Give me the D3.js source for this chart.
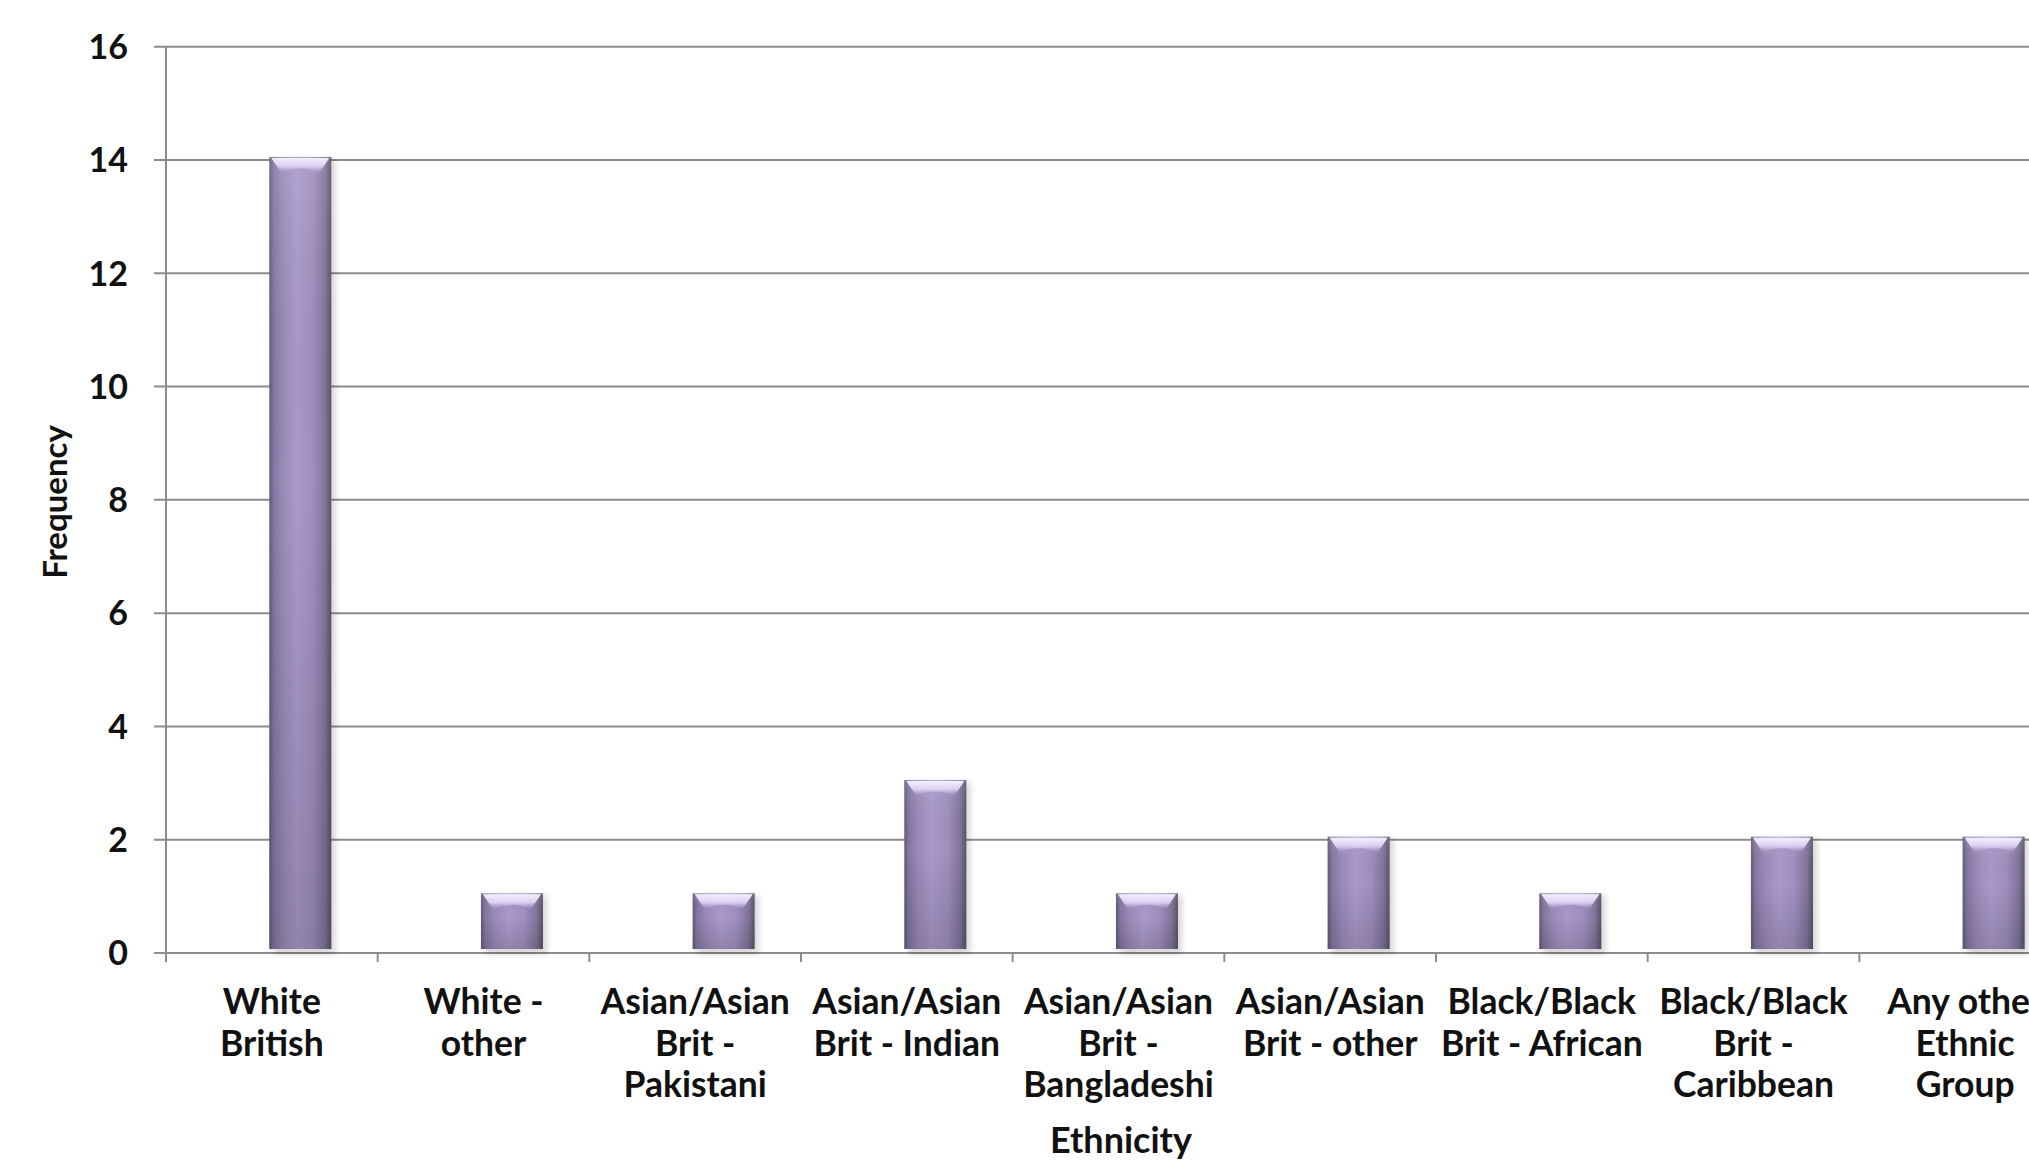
<!DOCTYPE html>
<html>
<head>
<meta charset="utf-8">
<script src="https://cdn.jsdelivr.net/npm/d3@7"></script>
<style>
  html, body { margin: 0; padding: 0; background: #ffffff; overflow: hidden; }
  svg { display: block; }
  text { font-family: Lato, "Open Sans", sans-serif; font-weight: bold; fill: #111111; }
</style>
</head>
<body>
<svg id="chart" width="2029" height="1161"></svg>
<script>
// ---- data ----
const categories = [
  "White British",
  "White - other",
  "Asian/Asian Brit - Pakistani",
  "Asian/Asian Brit - Indian",
  "Asian/Asian Brit - Bangladeshi",
  "Asian/Asian Brit - other",
  "Black/Black Brit - African",
  "Black/Black Brit - Caribbean",
  "Any other Ethnic Group"
];
const categoryLines = [
  ["White", "British"],
  ["White -", "other"],
  ["Asian/Asian", "Brit -", "Pakistani"],
  ["Asian/Asian", "Brit - Indian"],
  ["Asian/Asian", "Brit -", "Bangladeshi"],
  ["Asian/Asian", "Brit - other"],
  ["Black/Black", "Brit - African"],
  ["Black/Black", "Brit -", "Caribbean"],
  ["Any other", "Ethnic", "Group"]
];
const frequency = [14, 1, 1, 3, 1, 2, 1, 2, 2];
const yTicks = [0, 2, 4, 6, 8, 10, 12, 14, 16];
const xTitle = "Ethnicity";
const yTitle = "Frequency";

// ---- layout ----
const svg = d3.select("#chart");
const plot = { left: 166, right: 2071, top: 46.7, bottom: 953 };

const x = d3.scaleBand().domain(categories).range([plot.left, plot.right]).padding(0);
const y = d3.scaleLinear().domain([0, 16]).range([plot.bottom, plot.top]);

// gradients
const defs = svg.append("defs");
const hg = defs.append("linearGradient").attr("id", "barH").attr("x1", "0").attr("x2", "1").attr("y1", "0").attr("y2", "0");
[["0%", "#625a74"], ["7%", "#8477a0"], ["22%", "#9a8bba"], ["45%", "#a99acb"], ["70%", "#9f90c0"], ["90%", "#81759b"], ["100%", "#5a5268"]]
  .forEach(([o, c]) => hg.append("stop").attr("offset", o).attr("stop-color", c));
const vg = defs.append("linearGradient").attr("id", "barV").attr("x1", "0").attr("x2", "0").attr("y1", "0").attr("y2", "1");
[["0%", "#ffffff", 0.1], ["40%", "#000000", 0.0], ["100%", "#000000", 0.14]]
  .forEach(([o, c, a]) => vg.append("stop").attr("offset", o).attr("stop-color", c).attr("stop-opacity", a));
const tg = defs.append("linearGradient").attr("id", "barTop").attr("x1", "0").attr("x2", "0").attr("y1", "0").attr("y2", "1");
[["0%", "#f6f0ff", 1], ["55%", "#e2d6f6", 0.9], ["100%", "#bcaddf", 0]]
  .forEach(([o, c, a]) => tg.append("stop").attr("offset", o).attr("stop-color", c).attr("stop-opacity", a));
const blur = defs.append("filter").attr("id", "shadow").attr("x", "-20%").attr("y", "-5%").attr("width", "150%").attr("height", "115%");
blur.append("feGaussianBlur").attr("stdDeviation", 3);

// gridlines
svg.append("g").selectAll("line").data(yTicks).join("line")
  .attr("x1", plot.left - 12).attr("x2", plot.right)
  .attr("y1", d => y(d)).attr("y2", d => y(d))
  .attr("stroke", "#8c8c8c").attr("stroke-width", 2);

// y axis line
svg.append("line")
  .attr("x1", plot.left).attr("x2", plot.left)
  .attr("y1", y(16)).attr("y2", y(0) + 9)
  .attr("stroke", "#8c8c8c").attr("stroke-width", 2);

// category tick marks
svg.append("g").selectAll("line").data(categories.slice(1)).join("line")
  .attr("x1", d => x(d)).attr("x2", d => x(d))
  .attr("y1", y(0)).attr("y2", y(0) + 9)
  .attr("stroke", "#8c8c8c").attr("stroke-width", 2);

// y tick labels
svg.append("g").selectAll("text").data(yTicks).join("text")
  .attr("x", 128).attr("y", d => y(d)).attr("dy", "0.36em")
  .attr("text-anchor", "end").style("font-size", "34px")
  .text(d => d);

// bars
const bw = x.bandwidth();
const barW = bw * 0.293;
const barX = c => x(c) + bw * 0.488;
const bars = svg.append("g").selectAll("g").data(categories.map((c, i) => ({ c, v: frequency[i] }))).join("g");
bars.append("rect")
  .attr("x", d => barX(d.c) + 4).attr("y", d => y(d.v) - 1)
  .attr("width", barW).attr("height", d => y(0) - y(d.v) + 2)
  .attr("fill", "#000").attr("opacity", 0.16).attr("filter", "url(#shadow)");
bars.append("rect")
  .attr("x", d => barX(d.c)).attr("y", d => y(d.v) - 3)
  .attr("width", barW).attr("height", d => y(0) - y(d.v) - 1)
  .attr("fill", "url(#barH)");
bars.append("rect")
  .attr("x", d => barX(d.c)).attr("y", d => y(d.v) - 3)
  .attr("width", barW).attr("height", d => y(0) - y(d.v) - 1)
  .attr("fill", "url(#barV)");
bars.append("path")
  .attr("d", d => {
    const x0 = barX(d.c) + 2, x1 = barX(d.c) + barW - 2, t = y(d.v) - 2, h = 15;
    return `M${x0},${t} L${x1},${t} L${x1 - 10},${t + h} Q${(x0 + x1) / 2},${t + h - 9} ${x0 + 10},${t + h} Z`;
  })
  .attr("fill", "url(#barTop)");

// category labels
const labels = svg.append("g").selectAll("text").data(categories).join("text")
  .attr("x", d => x(d) + bw / 2).attr("y", 1014)
  .attr("text-anchor", "middle").style("font-size", "35.5px");
labels.each(function (d, i) {
  d3.select(this).selectAll("tspan").data(categoryLines[i]).join("tspan")
    .attr("x", x(d) + bw / 2).attr("dy", (t, j) => j === 0 ? 0 : 41.5)
    .text(t => t);
});

// axis titles
svg.append("text").attr("x", 1121).attr("y", 1153).attr("text-anchor", "middle")
  .style("font-size", "36px").text(xTitle);
svg.append("text").attr("transform", "translate(67,502) rotate(-90)").attr("text-anchor", "middle")
  .style("font-size", "33px").text(yTitle);
</script>
</body>
</html>
